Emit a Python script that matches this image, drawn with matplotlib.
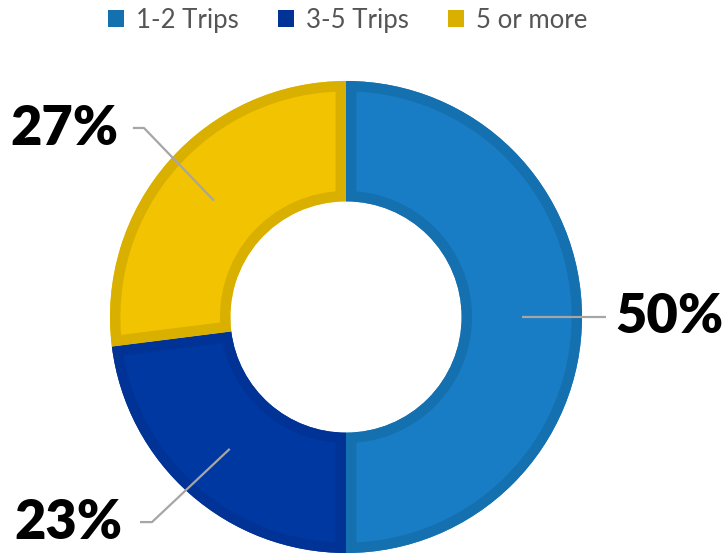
import numpy as np
import matplotlib
matplotlib.use("Agg")
import matplotlib.pyplot as plt
from matplotlib.patches import Patch, Wedge

categories = ["1-2 Trips", "3-5 Trips", "5 or more"]
shares = [50, 23, 27]
pct_labels = ["50%", "23%", "27%"]

fill_colors = ["#187DC4", "#0038A2", "#F2C300"]
edge_colors = ["#1570B0", "#003395", "#DAB000"]

W, H = 726, 555
fig = plt.figure(figsize=(W / 100, H / 100), dpi=100)

# donut centre and outer radius in pixels
cx, cy, R = 346, 317, 236
ax = fig.add_axes([(cx - R) / W, (H - cy - R) / H, 2 * R / W, 2 * R / H])

ring_w = 0.51
wedges, _ = ax.pie(shares, colors=fill_colors, startangle=90, counterclock=False,
                   radius=1.0, wedgeprops=dict(width=ring_w, linewidth=0))
ax.set_xlim(-1, 1)
ax.set_ylim(-1, 1)
ax.axis("off")

# darker inner border on each segment: a stroked copy clipped to the segment
for w, ec in zip(wedges, edge_colors):
    border = Wedge(w.center, w.r, w.theta1, w.theta2, width=w.width,
                   facecolor="none", edgecolor=ec, linewidth=15, joinstyle="miter",
                   zorder=w.get_zorder() + 0.1)
    ax.add_patch(border)
    border.set_clip_path(w)

# leader lines and value labels
r_mid = 1 - ring_w / 2
line_col = "#A6A6A6"
label_font = dict(fontsize=39, fontweight="heavy", family=["Lato", "DejaVu Sans"], color="black")

elbows = {
    "50%": [(1.10, 0.0)],
    "23%": [(-0.822, -0.869), (-0.873, -0.869)],
    "27%": [(-0.856, 0.801), (-0.903, 0.801)],
}
text_pos = {
    "50%": (1.14, 0.0, "left"),
    "23%": (-0.945, -0.873, "right"),
    "27%": (-0.966, 0.795, "right"),
}

for w, lab in zip(wedges, pct_labels):
    ang = np.deg2rad((w.theta1 + w.theta2) / 2)
    x0, y0 = r_mid * np.cos(ang), r_mid * np.sin(ang)
    pts = [(x0, y0)] + elbows[lab]
    xs, ys = zip(*pts)
    ax.plot(xs, ys, color=line_col, lw=1.6, solid_capstyle="butt", clip_on=False, zorder=3)
    tx, ty, ha = text_pos[lab]
    ax.text(tx, ty, lab, ha=ha, va="center", clip_on=False, **label_font)

handles = [Patch(facecolor=c, edgecolor="none") for c in edge_colors]
fig.legend(handles, categories, loc="upper center", bbox_to_anchor=(0.479, 1.028), ncol=3,
           frameon=False, handlelength=0.62, handleheight=0.62, handletextpad=0.45,
           columnspacing=1.55, prop=dict(family="Lato", size=18.5), labelcolor="#555555")

fig.savefig("out.png", dpi=100)
